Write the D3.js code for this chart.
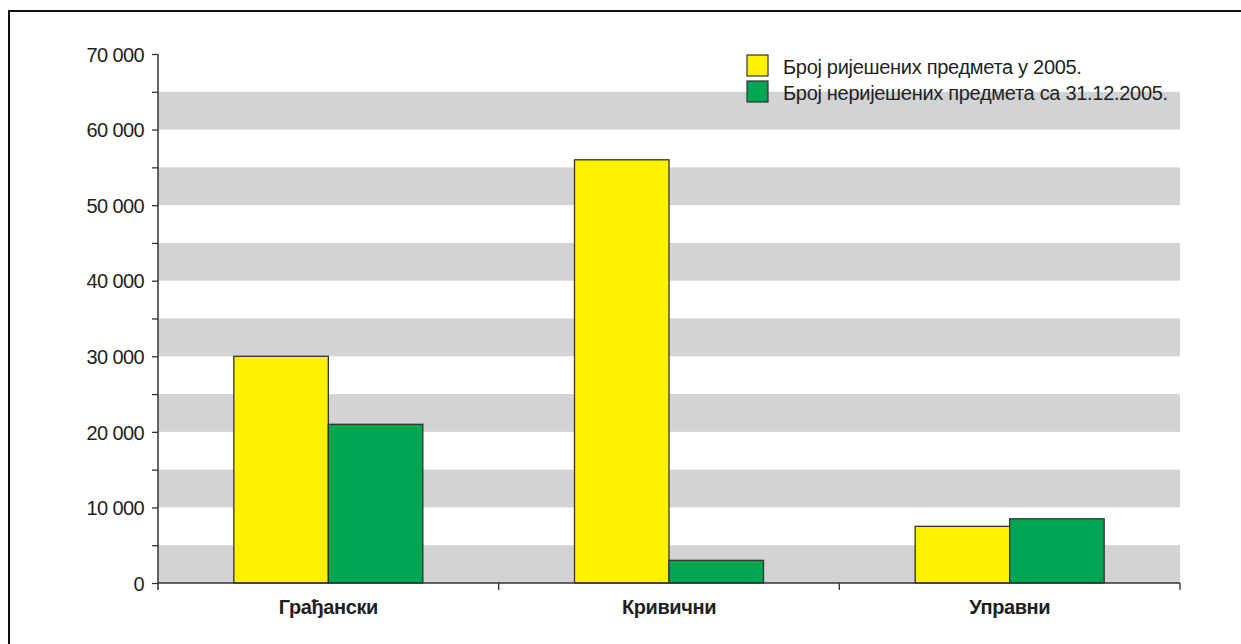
<!DOCTYPE html>
<html><head><meta charset="utf-8">
<script src="https://cdn.jsdelivr.net/npm/d3@7"></script>
<style>
body{margin:0;background:#fff;}
svg{display:block;}
text{font-family:"Liberation Sans Narrow","Arial Narrow","Liberation Sans",sans-serif;fill:#231f20;}
</style></head>
<body>
<script>
const categories = ["Грађански", "Кривични", "Управни"];
const seriesNames = ["Број ријешених предмета у 2005.", "Број неријешених предмета са 31.12.2005."];
const solved = [30000, 56000, 7500];
const unsolved = [21000, 3000, 8500];
const yTicks = [0, 10000, 20000, 30000, 40000, 50000, 60000, 70000];
const yMinorTicks = [5000, 15000, 25000, 35000, 45000, 55000, 65000];
const bandStarts = [0, 10000, 20000, 30000, 40000, 50000, 60000];
const colors = ["#fff200", "#00a651"];

(function(){
const W = 1241, H = 644;
const svg = d3.select("body").append("svg").attr("width", W).attr("height", H);

// frame
svg.append("path").attr("d", `M9,${H+5} L9,11 L${W+5},11`).attr("fill","none").attr("stroke","#111").attr("stroke-width",2);

const pl = 158, pr = 1180, pt = 54, pb = 583;
const y = d3.scaleLinear().domain([0, 70000]).range([pb, pt]);
const x0 = d3.scaleBand().domain(categories).range([pl, pr]).paddingInner(0).paddingOuter(0);
const x1 = d3.scaleBand().domain([0,1]).range([0, x0.bandwidth()]).paddingOuter(0.8025).paddingInner(0);

// bands
svg.append("g").selectAll("rect").data(bandStarts).join("rect")
  .attr("x", pl).attr("width", pr-pl)
  .attr("y", d => y(d+5000)).attr("height", d => y(d) - y(d+5000))
  .attr("fill", "#d1d3d4");

// bars
const g = svg.append("g").selectAll("g").data(categories).join("g")
  .attr("transform", d => `translate(${x0(d)},0)`);
g.selectAll("rect").data((d,i) => [solved[i], unsolved[i]]).join("rect")
  .attr("x", (d,j) => x1(j)).attr("width", x1.bandwidth())
  .attr("y", d => y(d)).attr("height", d => pb - y(d))
  .attr("fill", (d,j) => colors[j]).attr("stroke", "#333").attr("stroke-width", 1.3);

// y axis
const yAxis = d3.axisLeft(y).tickValues(yTicks).tickSize(6).tickPadding(8)
  .tickFormat(d => d3.format(",")(d).replace(/,/g, " "));
const ya = svg.append("g").attr("transform", `translate(${pl},0)`).call(yAxis);
ya.select(".domain").remove();
ya.selectAll("line").attr("stroke", "#333").attr("stroke-width", 1.3);
ya.selectAll("text").style("font-size", "20px").style("letter-spacing", "-0.6px")
  .attr("fill", "#231f20").attr("dy", "0.36em");
const yMinor = d3.axisLeft(y).tickValues(yMinorTicks).tickSize(6).tickFormat("");
const ym = svg.append("g").attr("transform", `translate(${pl},0)`).call(yMinor);
ym.select(".domain").remove();
ym.selectAll("line").attr("stroke", "#333").attr("stroke-width", 1.3);
svg.append("line").attr("x1", pl).attr("x2", pl).attr("y1", pt).attr("y2", pb+7)
  .attr("stroke", "#333").attr("stroke-width", 1.5);

// x axis
svg.append("line").attr("x1", pl).attr("x2", pr).attr("y1", pb).attr("y2", pb)
  .attr("stroke", "#333").attr("stroke-width", 1.5);
const boundaries = categories.map(c => x0(c)).concat([pr]);
svg.append("g").selectAll("line").data(boundaries.slice(1)).join("line")
  .attr("x1", d => d).attr("x2", d => d).attr("y1", pb).attr("y2", pb+7)
  .attr("stroke", "#333").attr("stroke-width", 1.3);
svg.append("g").selectAll("text").data(categories).join("text")
  .attr("x", d => x0(d) + x0.bandwidth()/2).attr("y", 614)
  .attr("text-anchor", "middle").style("font-size", "20px").style("font-weight", "bold")
  .style("letter-spacing", "-0.4px")
  .text(d => d);

// legend
const lg = svg.append("g").selectAll("g").data(seriesNames).join("g")
  .attr("transform", (d,i) => `translate(747,${55 + i*26})`);
lg.append("rect").attr("width", 21).attr("height", 21)
  .attr("fill", (d,i) => colors[i]).attr("stroke", "#333").attr("stroke-width", 1.2);
lg.append("text").attr("x", 36).attr("y", 19).style("font-size", "20px")
  .style("letter-spacing", "-0.3px").text(d => d);
})();
</script>
</body></html>
